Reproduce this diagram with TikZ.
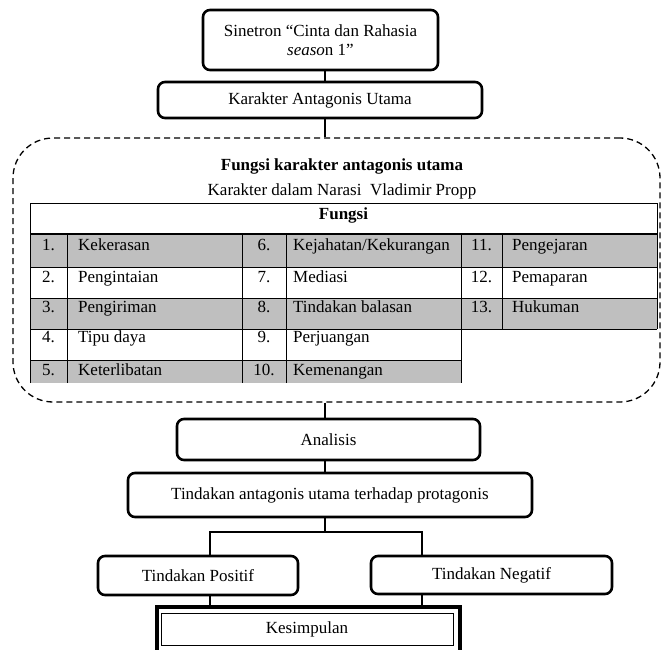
\documentclass[tikz,border=0pt]{standalone}
\usepackage{fontspec}
\setmainfont{Liberation Serif}
\begin{document}
\begin{tikzpicture}[x=1pt, y=-1pt,
  kotak/.style={rectangle, draw=black, line width=2.6pt, rounded corners=7pt, fill=white, align=center, inner sep=0pt, font=\fontsize{17}{19}\selectfont},
  garis/.style={line width=2.4pt},
  teks/.style={inner sep=0pt, text height=11.5pt, text depth=3.5pt, font=\fontsize{17}{19}\selectfont},
  tebal/.style={teks, font=\fontsize{17}{19}\selectfont\bfseries}]

\useasboundingbox (0,0) rectangle (662,650);

\coordinate (spine) at (325,0);
\coordinate (kiri) at (210,0);
\coordinate (kanan) at (422,0);

\node at (320.5,40)[kotak, minimum width=235pt, minimum height=60pt] (sinetron) {Sinetron “Cinta dan Rahasia\\\textit{seaso}n 1”};
\node at (320,100)[kotak, minimum width=324pt, minimum height=36pt] (karakter) {Karakter Antagonis Utama};

\node at (336.5,270)[rectangle, draw=black, line width=1.3pt, dash pattern=on 6pt off 4pt, rounded corners=40pt, minimum width=647pt, minimum height=264pt] (bingkai) {};

\node at (342,167)[tebal] (judul) {Fungsi karakter antagonis utama};
\node at (342,192)[teks] (subjudul) {Karakter dalam Narasi\ \ Vladimir Propp};

% tabel fungsi
\fill[black!25] (30,234) rectangle (657,267);
\fill[black!25] (30,298) rectangle (657,329);
\fill[black!25] (30,360) rectangle (461,383);
\draw[line width=1pt] (30,383) -- (30,204) -- (657,204) -- (657,329);
\draw[line width=2.2pt] (30,234) -- (657,234);
\draw[line width=1pt] (30,267) -- (657,267);
\draw[line width=1pt] (30,298) -- (657,298);
\draw[line width=1pt] (30,329) -- (657,329);
\draw[line width=1pt] (30,360) -- (461,360);
\draw[line width=1pt] (67,234) -- (67,383);
\draw[line width=1pt] (242,234) -- (242,383);
\draw[line width=1pt] (286,234) -- (286,383);
\draw[line width=1pt] (461,234) -- (461,383);
\draw[line width=1pt] (502,234) -- (502,329);

\node at (343.5,215)[tebal] (kepala) {Fungsi};

\node at (48.5,247)[teks] (n1) {1.};
\node at (48.5,278)[teks] (n2) {2.};
\node at (48.5,308)[teks] (n3) {3.};
\node at (48.5,338)[teks] (n4) {4.};
\node at (48.5,371)[teks] (n5) {5.};
\node at (78,247)[teks, anchor=west] (f1) {Kekerasan};
\node at (78,278)[teks, anchor=west] (f2) {Pengintaian};
\node at (78,308)[teks, anchor=west] (f3) {Pengiriman};
\node at (78,338)[teks, anchor=west] (f4) {Tipu daya};
\node at (78,371)[teks, anchor=west] (f5) {Keterlibatan};

\node at (264,247)[teks] (n6) {6.};
\node at (264,278)[teks] (n7) {7.};
\node at (264,308)[teks] (n8) {8.};
\node at (264,338)[teks] (n9) {9.};
\node at (264,371)[teks] (n10) {10.};
\node at (293,247)[teks, anchor=west] (f6) {Kejahatan/Kekurangan};
\node at (293,278)[teks, anchor=west] (f7) {Mediasi};
\node at (293,308)[teks, anchor=west] (f8) {Tindakan balasan};
\node at (293,338)[teks, anchor=west] (f9) {Perjuangan};
\node at (293,371)[teks, anchor=west] (f10) {Kemenangan};

\node at (481.5,247)[teks] (n11) {11.};
\node at (481.5,278)[teks] (n12) {12.};
\node at (481.5,308)[teks] (n13) {13.};
\node at (512,247)[teks, anchor=west] (f11) {Pengejaran};
\node at (512,278)[teks, anchor=west] (f12) {Pemaparan};
\node at (512,308)[teks, anchor=west] (f13) {Hukuman};

\node at (328.5,439.5)[kotak, minimum width=303pt, minimum height=41pt] (analisis) {Analisis};
\node at (330,495)[kotak, minimum width=404pt, minimum height=44pt] (tindakan) {Tindakan antagonis utama terhadap protagonis};
\node at (198,575.5)[kotak, minimum width=200pt, minimum height=39pt] (positif) {Tindakan Positif};
\node at (491.5,575)[kotak, minimum width=241pt, minimum height=38pt] (negatif) {Tindakan Negatif};

\node at (308.5,632)[rectangle, draw=black, line width=3.5pt, minimum width=303pt, minimum height=50pt] (luar) {};
\node at (307,629)[rectangle, draw=black, line width=1pt, fill=white, inner sep=0pt, minimum width=292pt, minimum height=32pt, font=\fontsize{17}{19}\selectfont] (kesimpulan) {Kesimpulan};

\coordinate (cabang) at (325,532);
\draw[garis] (sinetron.south -| spine) -- (karakter.north -| spine);
\draw[garis] (karakter.south -| spine) -- (bingkai.north -| spine);
\draw[garis] (bingkai.south -| spine) -- (analisis.north -| spine);
\draw[garis] (analisis.south -| spine) -- (tindakan.north -| spine);
\draw[garis] (tindakan.south -| spine) -- (cabang);
\draw[garis] (positif.north -| kiri) |- (cabang) -| (negatif.north -| kanan);
\draw[garis] (positif.south -| kiri) -- (luar.north -| kiri);
\draw[garis] (negatif.south -| kanan) -- (luar.north -| kanan);

\end{tikzpicture}
\end{document}
